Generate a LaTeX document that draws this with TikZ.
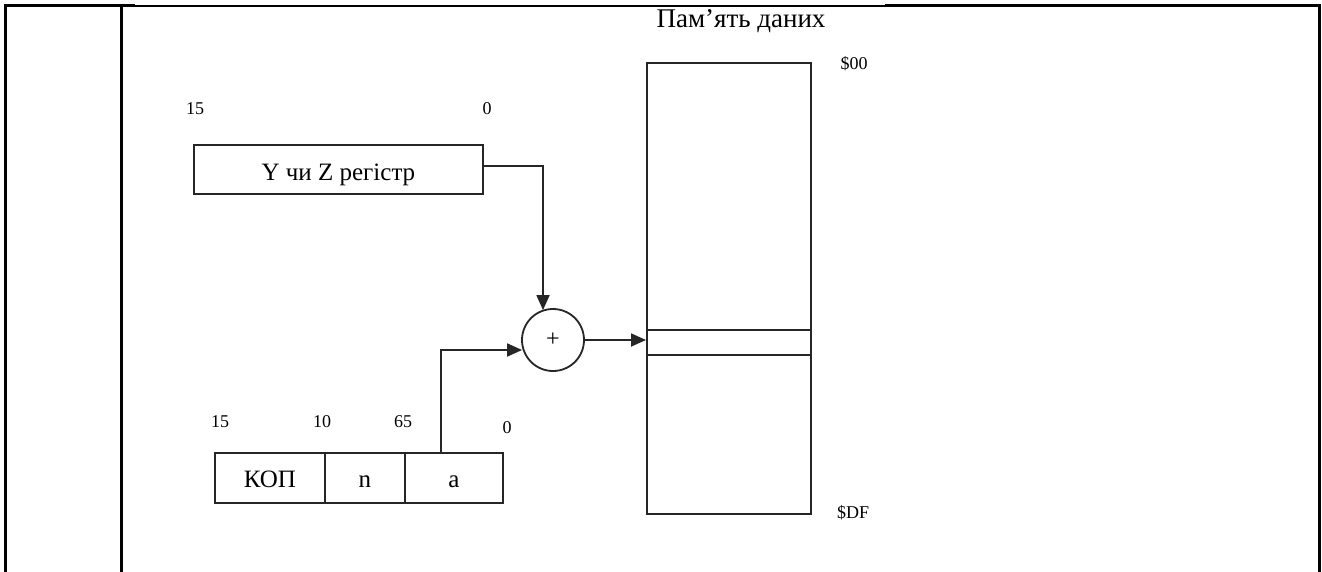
\documentclass[tikz,border=0pt]{standalone}
\usepackage{fontspec}
\setmainfont{Liberation Serif}
\usetikzlibrary{arrows.meta}
\begin{document}
\begin{tikzpicture}[x=1pt,y=-1pt,
  line/.style={draw=black!85, line width=1.8pt},
  arr/.style={line, -{Triangle[length=15pt,width=13pt]}},
  box/.style={line, rectangle, inner sep=0pt, anchor=north west},
  big/.style={font=\fontsize{25}{30}\selectfont},
  field/.style={box, big, minimum height=50pt, text height=20pt, text depth=0pt},
  small/.style={font=\fontsize{18}{22}\selectfont, inner sep=0pt},
  frame/.style={draw=black, line width=3pt}]
\useasboundingbox (0,0) rectangle (1322,572);
% table frame
\draw[frame] (5,572) -- (5,6) -- (135,6);
\draw[draw=black, line width=1.3pt] (135,6) -- (885,6);
\draw[frame] (885,6) -- (1319,6) -- (1319,572);
\draw[frame] (121,6) -- (121,572);
% register
\node[box, big, minimum width=289pt, minimum height=49pt, text height=22pt, text depth=0pt] (reg) at (193,144) {Y чи Z регістр};
\node[small] (r15) at (195,109) {15};
\node[small] (r0) at (487,109) {0};
% adder
\node[line, circle, minimum size=62pt, inner sep=0pt, font=\fontsize{24}{28}\selectfont] (sum) at (553,340) {+};
% memory
\node[box, minimum width=164pt, minimum height=451pt] (mem) at (646,62) {};
\node[box, minimum width=164pt, minimum height=25pt] (cell) at (646,329) {};
\node[font=\fontsize{27}{32}\selectfont, inner sep=0pt] (title) at (741,21) {Пам’ять даних};
\node[small] (m00) at (854,64) {\$00};
\node[small] (mdf) at (853,513) {\$DF};
% instruction
\node[field, minimum width=110pt] (kop) at (214,452) {КОП};
\node[field, minimum width=80pt] (nn) at (324,452) {n};
\node[field, minimum width=98pt] (aa) at (404,452) {a};
\node[small] (i15) at (220,422) {15};
\node[small] (i10) at (322,422) {10};
\node[small] (i65) at (403,422) {65};
\node[small] (i0) at (507,428) {0};
% connectors
\draw[arr] ([yshift=3pt]reg.east) -| ([xshift=-10pt,yshift=-2pt]sum.north);
\draw[arr] ([xshift=-13pt]aa.north) |- ([yshift=-10pt,xshift=1pt]sum.west);
\draw[arr] (sum.east) -- (sum.east -| mem.west);
\end{tikzpicture}
\end{document}
